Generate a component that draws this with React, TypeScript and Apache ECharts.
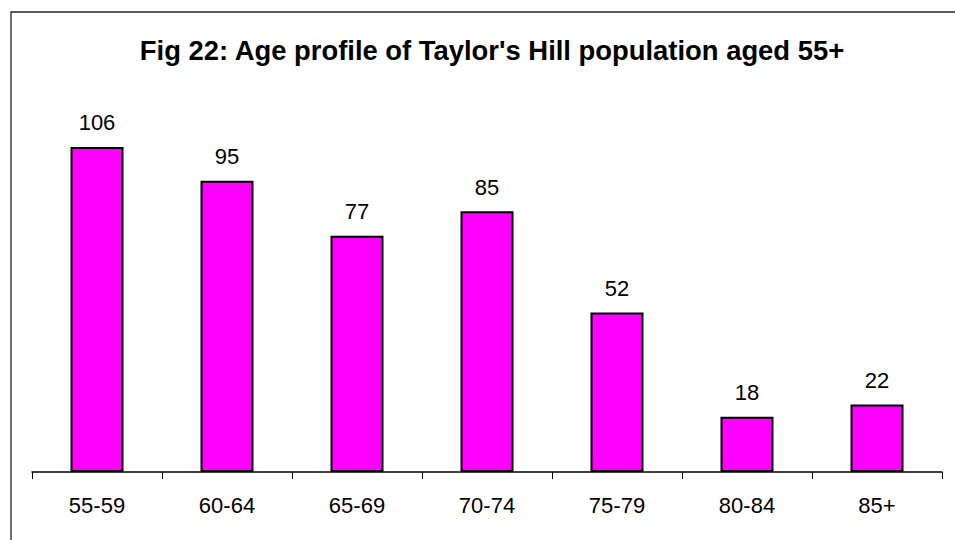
import React, { useEffect, useRef } from "react";
import * as echarts from "echarts";

const categories = ["55-59", "60-64", "65-69", "70-74", "75-79", "80-84", "85+"];
const values = [106, 95, 77, 85, 52, 18, 22];
const titleText = "Fig 22: Age profile of Taylor's Hill population aged 55+";

export default function App() {
  const ref = useRef<HTMLDivElement>(null);
  useEffect(() => {
    if (!ref.current) return;
    const chart = echarts.init(ref.current, undefined, { renderer: "svg" });
    chart.setOption({
      animation: false,
      backgroundColor: "#ffffff",
      title: {
        text: titleText,
        left: 487,
        textAlign: "center",
        top: 32,
        textStyle: { fontFamily: "Liberation Sans, Arial, sans-serif", fontSize: 27.4, fontWeight: "bold", color: "#000" },
      },
      graphic: [
        {
          type: "rect",
          shape: { x: 11, y: 12, width: 1000, height: 1000 },
          style: { fill: "none", stroke: "#222", lineWidth: 1.3 },
          silent: true,
        },
      ],
      grid: { left: 32, right: 13, top: 104, bottom: 68, containLabel: false },
      xAxis: {
        type: "category",
        data: categories,
        boundaryGap: true,
        axisLine: { lineStyle: { color: "#000", width: 1.5 } },
        axisTick: { show: true, length: 7, lineStyle: { color: "#000", width: 1 } },
        axisLabel: { color: "#000", fontSize: 22, fontFamily: "Liberation Sans, Arial, sans-serif", margin: 22 },
      },
      yAxis: {
        type: "value",
        min: 0,
        max: 120,
        show: false,
        splitLine: { show: false },
      },
      series: [
        {
          type: "bar",
          data: values,
          barWidth: 53,
          itemStyle: { color: "#FF00FF", borderColor: "#000", borderWidth: 2 },
          label: {
            show: true,
            position: "top",
            distance: 13,
            color: "#000",
            fontSize: 22,
            fontFamily: "Liberation Sans, Arial, sans-serif",
          },
        },
      ],
    });
    return () => chart.dispose();
  }, []);
  return <div ref={ref} style={{ width: 955, height: 540, position: "absolute", left: 0, top: 0 }} />;
}
